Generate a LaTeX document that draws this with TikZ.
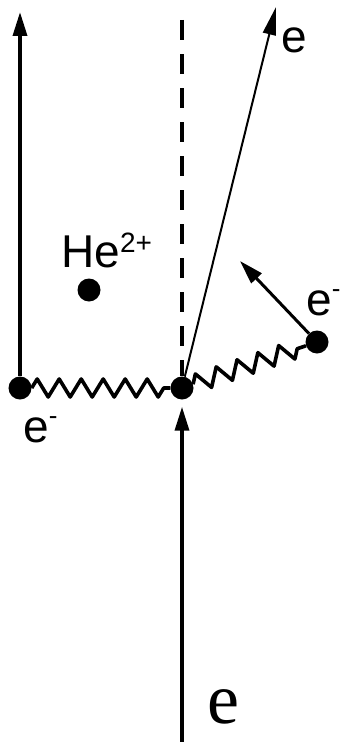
\documentclass[tikz,border=0pt]{standalone}
\usepackage{fontspec}
\setmainfont{Liberation Sans}
\newfontfamily\romanface{Liberation Serif}
\usetikzlibrary{arrows.meta,decorations.pathmorphing,positioning}
\begin{document}
\begin{tikzpicture}[x=1bp,y=-1bp,>={Triangle[length=24bp,width=14bp]},
 dot/.style={circle,fill=black,inner sep=0pt,minimum size=23bp},
 photon/.style={line width=3.6bp,line join=round,decorate,
  decoration={zigzag,segment length=22bp,amplitude=9bp}},
 lbl/.style={inner sep=0pt,anchor=base west,font=\fontsize{46bp}{46bp}\selectfont}]
\useasboundingbox (0,0) rectangle (345,742);
\node[dot](el)at(20,388){};\node[dot](v)at(182,388){};
\node[dot](er)at(317,342){};\node[dot](he)at(89,290){};
\coordinate(lt)at(20,12);\coordinate(dt)at(182,20);\coordinate(vb)at(182,742);
\coordinate(st)at(276,7);\coordinate(rt)at(240,261);
\draw[->,line width=3.5bp](el)--(lt);
\draw[line width=4.5bp,dash pattern=on 20bp off 14bp](dt)--(v);
\draw[->,line width=3.5bp,shorten >=7bp](vb)--(v);
\draw[->,line width=2bp,>={Triangle[length=28bp,width=13bp]}](v)--(st);
\draw[->,line width=3bp](er)--(rt);
\draw[photon](el)--(v);\draw[photon](v)--(er);
\node[lbl](hel)at(61,267){He\raisebox{15bp}{\fontsize{28bp}{28bp}\selectfont 2+}};
\node[lbl](eout)at(281,53){e};
\node[lbl](eright)at(306,315){e\raisebox{18bp}{\fontsize{26bp}{26bp}\selectfont -}};
\node[lbl](eleft)at(23,442){e\raisebox{18bp}{\fontsize{26bp}{26bp}\selectfont -}};
\node[lbl](ein)at(207,723){\romanface\fontsize{72bp}{72bp}\selectfont e};
\end{tikzpicture}
\end{document}
